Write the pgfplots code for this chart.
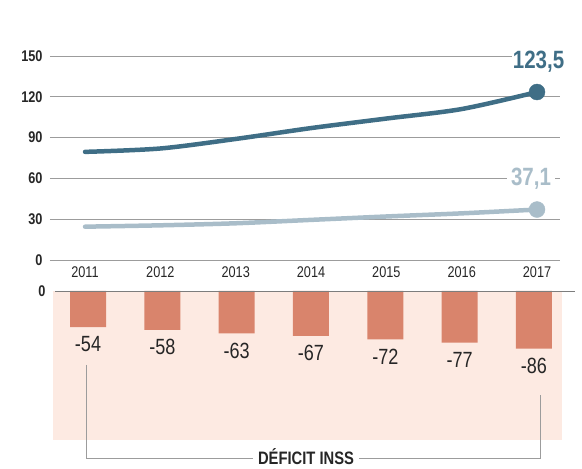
\documentclass[border=0pt]{standalone}
\usepackage{pgfplots}
\pgfplotsset{compat=1.18}
\usepackage{fontspec}
\setmainfont{Liberation Sans}[FakeStretch=0.82]
\definecolor{darkline}{HTML}{3F6E86}
\definecolor{lightline}{HTML}{A9BDC9}
\definecolor{barcol}{HTML}{D9846C}
\definecolor{pinkbg}{HTML}{FDEAE2}
\definecolor{gridcol}{HTML}{9C9C9C}
\definecolor{txt}{HTML}{262626}
\begin{document}
\begin{tikzpicture}[x=1pt,y=1pt]
\useasboundingbox (0,0) rectangle (582,469);
% top axis
\begin{axis}[
  at={(50pt,209pt)}, anchor=south west, scale only axis,
  width=510pt, height=204pt,
  xmin=2010.535, xmax=2017.305, ymin=0, ymax=150,
  ytick={0,30,60,90,120,150},
  xtick={2011,2012,2013,2014,2015,2016,2017},
  xticklabels={2011,2012,2013,2014,2015,2016,2017},
  ymajorgrids, grid style={gridcol, line width=0.8pt},
  axis line style={draw=none}, major tick length=0pt,
  /pgf/number format/assume math mode=true,
  yticklabel style={font=\fontsize{15.5}{15.5}\selectfont\bfseries, text=txt, anchor=east, xshift=-4pt},
  xticklabel style={font=\fontsize{15.5}{15.5}\selectfont, text=txt, anchor=north, yshift=-3pt},
  clip=false,
]
\addplot[darkline, line width=4.5pt, smooth, line cap=round] coordinates {
 (2011,79.5) (2012,82) (2013,89) (2014,97) (2015,104) (2016,111) (2017,123.5)};
\addplot[lightline, line width=4.5pt, smooth, line cap=round] coordinates {
 (2011,24.5) (2012,25.5) (2013,27) (2014,29.5) (2015,32) (2016,34.3) (2017,37.1)};
\addplot[only marks, mark=*, mark size=8pt, darkline, mark options={fill=darkline, draw=darkline}] coordinates {(2017,123.5)};
\addplot[only marks, mark=*, mark size=8pt, lightline, mark options={fill=lightline, draw=lightline}] coordinates {(2017,37.1)};
\node[fill=white, inner sep=1pt, text=darkline, font=\fontsize{25}{25}\selectfont\bfseries] at (axis cs:2017.02,145.6) {123,5};
\node[fill=white, inner xsep=4pt, inner ysep=1pt, text=lightline, font=\fontsize{25}{25}\selectfont\bfseries] at (axis cs:2016.92,59.6) {37,1};
\end{axis}
% bottom axis
\begin{axis}[
  at={(53pt,29pt)}, anchor=south west, scale only axis,
  width=509pt, height=149pt,
  xmin=2010.529, xmax=2017.377, ymin=-222, ymax=0,
  ybar, bar width=36pt,
  axis background/.style={fill=pinkbg},
  axis line style={draw=none}, major tick length=0pt,
  xtick=\empty, ytick={0},
  /pgf/number format/assume math mode=true,
  yticklabel style={font=\fontsize{15.5}{15.5}\selectfont\bfseries, text=txt, anchor=east, xshift=-4pt},
  nodes near coords,
  nodes near coords style={font=\fontsize{22}{22}\selectfont, text=txt, yshift=-6pt},
  clip=false,
]
\addplot[fill=barcol, draw=none] coordinates {
 (2011,-54) (2012,-58) (2013,-63) (2014,-67) (2015,-72) (2016,-77) (2017,-86)};
\draw[gridcol!80!black, line width=0.9pt] (axis cs:2010.56,0) -- (axis cs:2017.55,0);
\end{axis}
% bracket
\draw[gridcol, line width=0.8pt] (86,104) -- (86,11) -- (540,11) -- (540,74);
\node[fill=white, inner xsep=5pt, inner ysep=0.5pt, text=txt, font=\fontsize{18}{18}\selectfont\bfseries] at (306,12) {DÉFICIT INSS};
\end{tikzpicture}
\end{document}
